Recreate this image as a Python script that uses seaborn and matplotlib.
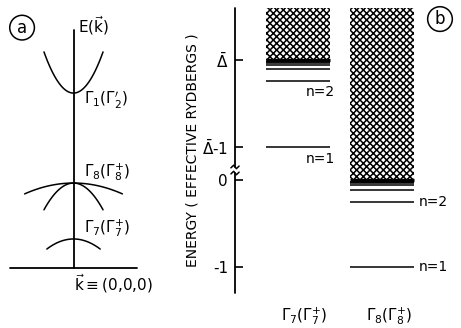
import numpy as np
import pandas as pd
import matplotlib
matplotlib.use('Agg')
import matplotlib.pyplot as plt
import seaborn as sns

# (a) bands near k = 0: energy at Gamma, curvature, k extent drawn
band_names = ['G1', 'G8_heavy', 'G8_light', 'G7']
band_edge = [0.735, 0.357, 0.357, 0.122]
band_curv = [0.80, -0.077, -0.52, -0.24]
band_kmax = [0.465, 0.77, 0.465, 0.42]
band_labels = [r'$\Gamma_1(\Gamma_2^{\prime})$', r'$\Gamma_8(\Gamma_8^{+})$', r'$\Gamma_7(\Gamma_7^{+})$']
band_label_e = [0.706, 0.403, 0.168]

# (b) exciton levels (effective Rydbergs) below each continuum
delta_bar = 1.384  # where Delta-bar sits on the broken axis
col_names = [r'$\Gamma_7(\Gamma_7^{+})$', r'$\Gamma_8(\Gamma_8^{+})$']
col_onset = [delta_bar, 0.0]
levels = [-1.0, -0.25, -0.111, -0.0625, -0.04, -0.028, -0.02]
ytick_pos = [-1, 0, delta_bar - 1, delta_bar]
ytick_labels = ['-1', '0', r'$\bar{\Delta}$-1', r'$\bar{\Delta}$']

sns.set_style('white')
plt.rcParams['font.family'] = ['DejaVu Sans']
plt.rcParams['mathtext.fontset'] = 'dejavusans'
plt.rcParams['hatch.linewidth'] = 1.1
plt.rcParams['text.color'] = 'black'
plt.rcParams['axes.labelcolor'] = 'black'
plt.rcParams['ytick.color'] = 'black'

fig = plt.figure(figsize=(4.61, 3.28), dpi=100)

# ---- panel a
ax_a = fig.add_axes([0.0217, 0.1829, 0.2755, 0.7256])
ax_a.set_xlim(-1, 1)
ax_a.set_ylim(0, 1)
ax_a.axis('off')

rows = []
for name, e0, c, km in zip(band_names, band_edge, band_curv, band_kmax):
    for k in np.linspace(-km, km, 80):
        rows.append({'band': name, 'k': k, 'E': e0 + c * k ** 2})
bands = pd.DataFrame(rows)
sns.lineplot(data=bands, x='k', y='E', units='band', estimator=None,
             color='black', lw=1.1, legend=False, ax=ax_a)
ax_a.set_xlabel('')
ax_a.set_ylabel('')
ax_a.axhline(0, color='black', lw=1.3, clip_on=False)
ax_a.axvline(0, color='black', lw=1.3, clip_on=False)

for lab, e in zip(band_labels, band_label_e):
    ax_a.text(0.16, e, lab, fontsize=11, ha='left', va='center')
ax_a.text(0.07, 1.02, r'E($\vec{\mathrm{k}}$)', fontsize=11, ha='left', va='center')
ax_a.text(0.0, -0.065, r'$\vec{\mathrm{k}}\equiv$(0,0,0)', fontsize=11, ha='left', va='center')
ax_a.text(-0.81, 1.01, 'a', fontsize=12, ha='center', va='center',
          bbox=dict(boxstyle='circle,pad=0.2', fc='white', ec='black', lw=1.1))

# ---- panel b
ax_b = fig.add_axes([0.5098, 0.1067, 0.4902, 0.8689])
ylo, yhi = -1.299, 1.977
ax_b.set_xlim(0, 1)
ax_b.set_ylim(ylo, yhi)
for s in ax_b.spines.values():
    s.set_visible(False)

col_x = [0.277, 0.651]
col_w = 0.283
ax_b.bar(col_x, [yhi - o for o in col_onset], width=col_w, bottom=col_onset,
         color='white', edgecolor='black', hatch='xxxxx', linewidth=0)
for x, o in zip(col_x, col_onset):
    x0, x1 = x - col_w / 2, x + col_w / 2
    ax_b.hlines(o, x0, x1, color='black', lw=2.4)
    ax_b.hlines([o + l for l in levels], x0, x1, color='black', lw=1.1)

# level labels
ax_b.text(0.314, col_onset[0] - 0.25 - 0.12, 'n=2', fontsize=10, ha='left', va='center')
ax_b.text(0.314, col_onset[0] - 1.0 - 0.14, 'n=1', fontsize=10, ha='left', va='center')
ax_b.text(0.815, col_onset[1] - 0.25, 'n=2', fontsize=10, ha='left', va='center')
ax_b.text(0.815, col_onset[1] - 1.0, 'n=1', fontsize=10, ha='left', va='center')

for x, name in zip(col_x, col_names):
    ax_b.text(x + 0.03, -1.56, name, fontsize=11, ha='center', va='center')

# broken energy axis
ax_b.plot([0, 0], [ylo, 0.08], color='black', lw=1.3, clip_on=False)
ax_b.plot([0, 0], [0.15, yhi], color='black', lw=1.3, clip_on=False)
for yb in [0.08, 0.15]:
    ax_b.plot([-0.018, -0.006, 0.006, 0.018], [yb - 0.01, yb + 0.02, yb - 0.02, yb + 0.01],
              color='black', lw=1.1, clip_on=False)

ax_b.set_xticks([])
ax_b.set_yticks(ytick_pos, ytick_labels)
ax_b.tick_params(axis='y', direction='in', length=6, width=1.2, pad=5, labelsize=11, left=True)
ax_b.set_ylabel('ENERGY ( EFFECTIVE RYDBERGS )', fontsize=10)
ax_b.yaxis.set_label_coords(-0.155, 0.5)
ax_b.text(0.907, 1.85, 'b', fontsize=12, ha='center', va='center',
          bbox=dict(boxstyle='circle,pad=0.2', fc='white', ec='black', lw=1.1))

fig.savefig('out.png', dpi=100)
